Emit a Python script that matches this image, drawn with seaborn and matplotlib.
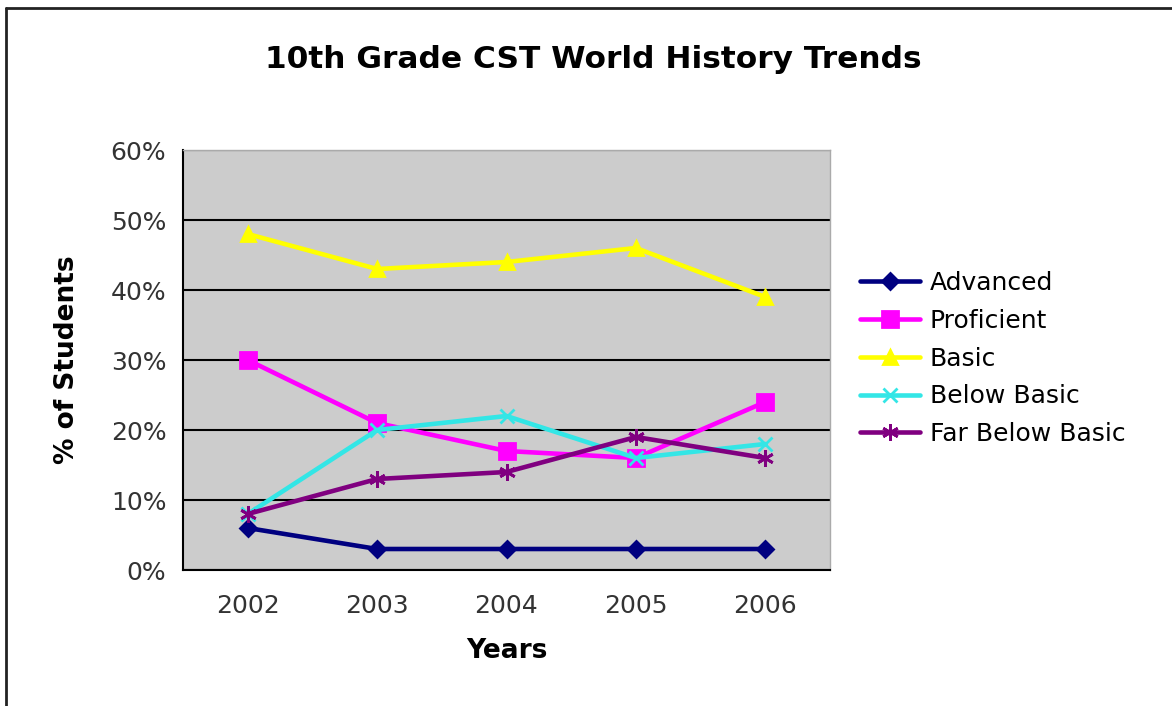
import numpy as np
import pandas as pd
import matplotlib
matplotlib.use("Agg")
import matplotlib.pyplot as plt
from matplotlib.lines import Line2D
import seaborn as sns

years = ["2002", "2003", "2004", "2005", "2006"]
advanced = [6, 3, 3, 3, 3]
proficient = [30, 21, 17, 16, 24]
basic = [48, 43, 44, 46, 39]
below_basic = [8, 20, 22, 16, 18]
far_below_basic = [8, 13, 14, 19, 16]

series = {
    "Advanced": advanced,
    "Proficient": proficient,
    "Basic": basic,
    "Below Basic": below_basic,
    "Far Below Basic": far_below_basic,
}
colors = {
    "Advanced": "#000080",
    "Proficient": "#FF00FF",
    "Basic": "#FFFF00",
    "Below Basic": "#33E6E6",
    "Far Below Basic": "#800080",
}
markers = {
    "Advanced": "D",
    "Proficient": "s",
    "Basic": "^",
    "Below Basic": "x",
    "Far Below Basic": (6, 2, 0),
}
msizes = {"Advanced": 8, "Proficient": 11, "Basic": 10, "Below Basic": 10, "Far Below Basic": 12}

rows = []
for name, vals in series.items():
    for i, v in enumerate(vals):
        rows.append({"level": name, "pos": i, "pct": v})
df = pd.DataFrame(rows)

sns.set_theme(style="white")
plt.rcParams["font.family"] = ["DejaVu Sans"]
plt.rcParams["text.color"] = "black"
plt.rcParams["axes.labelcolor"] = "black"

fig = plt.figure(figsize=(11.72, 7.06), dpi=100)
ax = fig.add_axes([183 / 1172, 1 - 570 / 706, (830 - 183) / 1172, (570 - 150) / 706])
ax.set_facecolor("#CCCCCC")

handles = []
for name in series:
    sub = df[df["level"] == name]
    sns.lineplot(data=sub, x="pos", y="pct", ax=ax, color=colors[name], lw=3.3,
                 marker=markers[name], markersize=msizes[name],
                 markeredgecolor=colors[name], markeredgewidth=2, zorder=3)
    handles.append(Line2D([], [], color=colors[name], lw=3.3, marker=markers[name],
                          markersize=msizes[name], markeredgecolor=colors[name],
                          markeredgewidth=2, label=name))

ax.set_xlim(-0.5, 4.5)
ax.set_ylim(0, 60)
ax.set_yticks(range(0, 61, 10))
ax.set_yticklabels([f"{v}%" for v in range(0, 61, 10)])
ax.yaxis.grid(True, color="black", lw=1.5)
ax.set_axisbelow(True)

# category labels centered, ticks at boundaries
ax.set_xticks(np.arange(-0.5, 5, 1))
ax.set_xticklabels([])
ax.set_xticks(range(len(years)), minor=True)
ax.set_xticklabels(years, minor=True)
ax.tick_params(axis="x", which="major", direction="out", length=7, width=1.3, color="black")
ax.tick_params(axis="x", which="minor", length=0, pad=17, labelsize=18, labelcolor="#333333")
ax.tick_params(axis="y", direction="out", length=7, width=1.3, color="black",
               labelsize=18, labelcolor="#333333", pad=5)

for s in ["left", "bottom"]:
    ax.spines[s].set_color("black")
    ax.spines[s].set_linewidth(1.5)
for s in ["top", "right"]:
    ax.spines[s].set_color("#AAAAAA")
    ax.spines[s].set_linewidth(1)

ax.set_xlabel("Years", fontsize=19, fontweight="bold", labelpad=15)
ax.set_ylabel("% of Students", fontsize=19, fontweight="bold", labelpad=22)

fig.text(593 / 1172, 1 - 60 / 706, "10th Grade CST World History Trends",
         ha="center", va="center", fontsize=22.5, fontweight="bold")

fig.legend(handles=handles, loc="upper left", bbox_to_anchor=(860 / 1172, 1 - 271 / 706),
           frameon=False, fontsize=18, handlelength=2.4, handletextpad=0.4,
           labelspacing=0.55, borderaxespad=0, borderpad=0)

# outer border (top and left edges visible)
fig.add_artist(Line2D([6 / 1172, 6 / 1172], [0, 1 - 8 / 706], color="#222222", lw=2,
                      transform=fig.transFigure))
fig.add_artist(Line2D([6 / 1172, 1], [1 - 8 / 706, 1 - 8 / 706], color="#222222", lw=2,
                      transform=fig.transFigure))

fig.savefig("out.png", dpi=100)
